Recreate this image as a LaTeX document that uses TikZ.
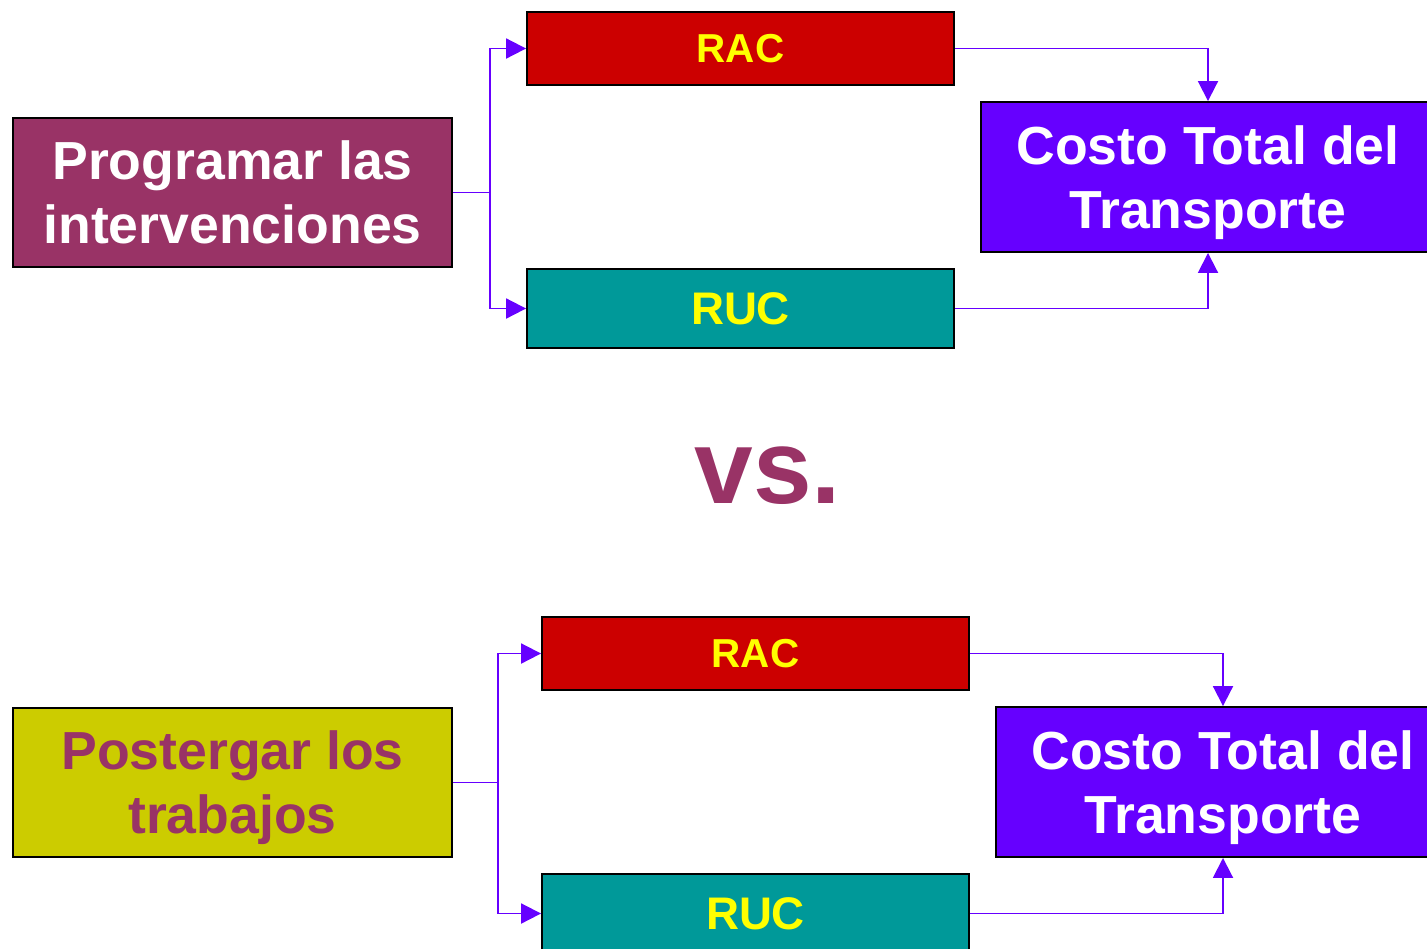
\documentclass[tikz,border=0pt]{standalone}
\usepackage{fontspec}
\setmainfont{Liberation Sans}
\usetikzlibrary{arrows.meta, positioning}

\definecolor{ciruela}{HTML}{993366}
\definecolor{rojo}{HTML}{CC0000}
\definecolor{verdeazul}{HTML}{009999}
\definecolor{morado}{HTML}{6600FF}
\definecolor{oliva}{HTML}{CCCC00}
\definecolor{amarillo}{HTML}{FFFF00}

\begin{document}
\begin{tikzpicture}[x=0.02cm, y=-0.02cm, >={Triangle[length=0.4cm, width=0.4cm]},
    caja/.style={draw=black, line width=1.1pt, inner sep=0pt, align=center, font=\bfseries},
    grande/.style={caja, minimum width=8.78cm, minimum height=2.98cm, text depth=0pt, font=\bfseries\fontsize{30.5}{36.5}\selectfont},
    costo/.style={caja, fill=morado, text=white, minimum width=9.08cm, minimum height=3cm, text depth=0pt, font=\bfseries\fontsize{30.5}{36.5}\selectfont},
    rac/.style={caja, fill=rojo, text=amarillo, minimum width=8.54cm, minimum height=1.46cm, font=\bfseries\fontsize{23}{27}\selectfont},
    ruc/.style={caja, fill=verdeazul, text=amarillo, minimum width=8.54cm, minimum height=1.58cm, font=\bfseries\fontsize{26}{30}\selectfont},
    flecha/.style={->, draw=morado, line width=1.1pt}]
    \useasboundingbox (0,0) rectangle (1427,948);
    % arriba
    \node[grande, fill=ciruela, text=white] (prog) at (232.5,192.5) {Programar las\\intervenciones};
    \node[rac] (racA) at (740.5,48.5) {RAC};
    \node[ruc] (rucA) at (740.5,308.5) {RUC};
    \node[costo] (costoA) at (1208,177) {Costo Total del\\Transporte};
    \draw[flecha, -] (prog.east) -- ++(37,0) coordinate (jA);
    \draw[flecha] (jA) |- (racA.west);
    \draw[flecha] (jA) |- (rucA.west);
    \draw[flecha] (racA.east) -| (costoA.north);
    \draw[flecha] (rucA.east) -| (costoA.south);
    % vs.
    \node[anchor=base, text=ciruela, font=\bfseries\fontsize{60}{70}\selectfont] (vs) at (768,503) {vs.};
    % abajo
    \node[grande, fill=oliva, text=ciruela] (post) at (232.5,782.5) {Postergar los\\trabajos};
    \node[rac] (racB) at (755.5,653.5) {RAC};
    \node[ruc] (rucB) at (755.5,913.5) {RUC};
    \node[costo] (costoB) at (1223,782) {Costo Total del\\Transporte};
    \draw[flecha, -] (post.east) -- ++(45,0) coordinate (jB);
    \draw[flecha] (jB) |- (racB.west);
    \draw[flecha] (jB) |- (rucB.west);
    \draw[flecha] (racB.east) -| (costoB.north);
    \draw[flecha] (rucB.east) -| (costoB.south);
\end{tikzpicture}
\end{document}
